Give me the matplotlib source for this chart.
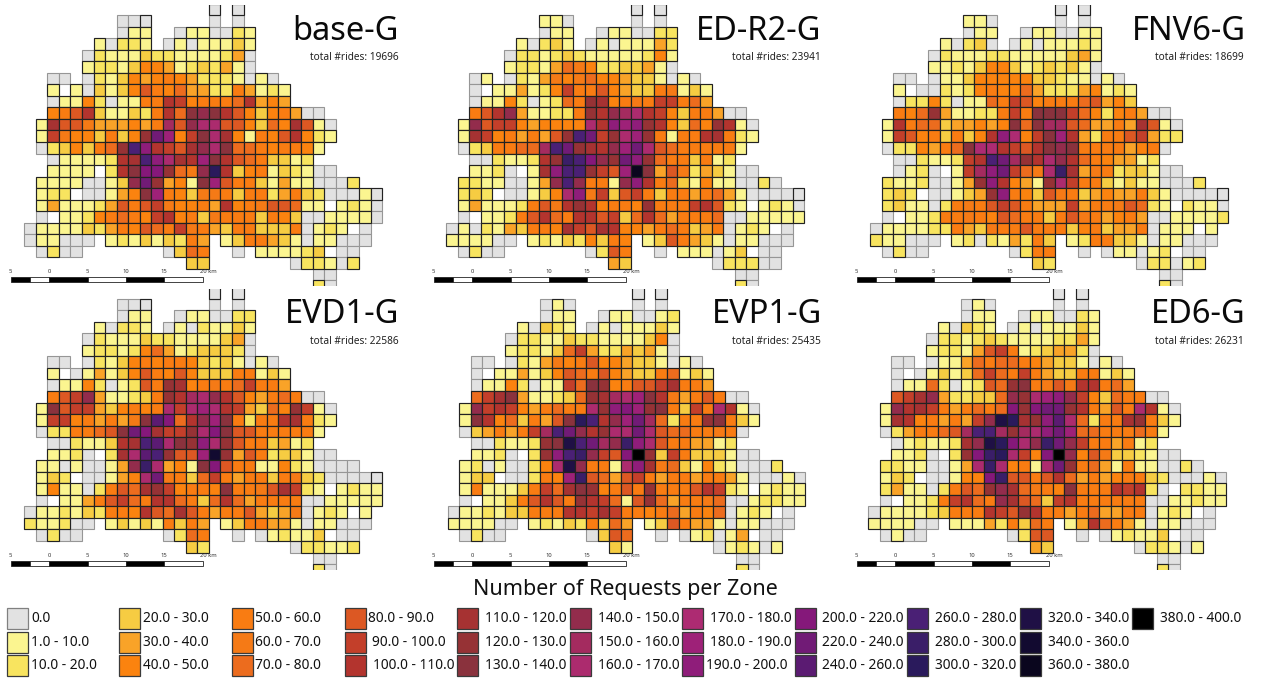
import matplotlib
matplotlib.use('Agg')
import matplotlib.pyplot as plt
from matplotlib.patches import Rectangle

plt.rcParams['font.family'] = ['Noto Sans', 'DejaVu Sans']

W, H = 1262, 678

# legend classes, one letter per class in the grids below
class_codes = '0abcdefghijklmnopqrstuvwxyzABCD'
class_labels = ['0.0', '1.0 - 10.0', '10.0 - 20.0', '20.0 - 30.0', '30.0 - 40.0', '40.0 - 50.0',
                '50.0 - 60.0', '60.0 - 70.0', '70.0 - 80.0', '80.0 - 90.0', '90.0 - 100.0', '100.0 - 110.0',
                '110.0 - 120.0', '120.0 - 130.0', '130.0 - 140.0', '140.0 - 150.0', '150.0 - 160.0', '160.0 - 170.0',
                '170.0 - 180.0', '180.0 - 190.0', '190.0 - 200.0', '200.0 - 220.0', '220.0 - 240.0', '240.0 - 260.0',
                '260.0 - 280.0', '280.0 - 300.0', '300.0 - 320.0', '320.0 - 340.0', '340.0 - 360.0', '360.0 - 380.0',
                '380.0 - 400.0']
class_colors = ['#e2e2e2', '#fbf590', '#f8e45f', '#f6cc42', '#f9a328', '#fb830f', '#f97c12', '#f57a16',
                '#ec6c1e', '#dc5823', '#c33f2a', '#b3342e', '#a63232', '#963235', '#8a323d', '#932c4c',
                '#a42b5f', '#ac2b6e', '#ad2b72', '#9e2178', '#8f1d7a', '#85187a', '#711b76', '#5b1b72',
                '#4a2075', '#3a1e68', '#2a1a5c', '#1f1045', '#120a30', '#0a061e', '#000000']

titles = ['base-G', 'ED-R2-G', 'FNV6-G', 'EVD1-G', 'EVP1-G', 'ED6-G']
total_rides = [19696, 23941, 18699, 22586, 25435, 26231]

base_g = [
    '................+.+',
    '........00+.....0.0',
    '........0aa..0aa00ba',
    '......a0bba.0a0aaaca',
    '.....0baaacbbaaaabd0',
    '.....abbaceedabcbda0',
    '..00.0bacedefedbbba0a0',
    '..a.a0caceifehddbbfdaba',
    '..0aaeb0aaffkjefffhkded',
    '..efikcaacbfkhnonkiecefd00',
    '.aliigdddedfpioqqiiechelia0',
    '.ajgeecfcemvsejnqleafeikeba',
    '.0bcecfhmxtkjiloqnhhfeffea',
    '..0aaaabklxtqlksnkihfccab',
    '..aaaa.bknuumhgozkcefacba00',
    '.aaaa00acovmdeansiffcadaa000b',
    '.abb.00adensfecggfcffbdfcb000a+',
    '.adaaabdifijgeefdkefgiihaa.aba0',
    '.0.aabefhfejkefcgfffcfec00aaaa0',
    '0aaaacbdfeihfjgfdcffcccf0aba.0',
    '0aa000.abacacbfd.acffdca0aa000',
    '.0b00.......0chf..0.aaaabc.00',
    '..............cc.......0bba0b',
    '.........................00',
    '.........................b0',
]
ed_r2_g = [
    '................+.+',
    '........aa0.....0.0',
    '........0aa..0aa00bb',
    '......a0bca.0a0aaadb',
    '.....0bbabcbaaaaabea',
    '.....abbadhgebbccda0',
    '..0a.0badgegheedcca0a0',
    '..0.aadabejffiedccfgaca',
    '..0aaeb0abhfmlefgfjjfhd',
    '..fikodaabbfmkopqkjecffd00',
    '.aoijjedeeeeqktstmkechemka0',
    '.aljefdfdimxvjmqsmfaffklfba',
    '.0bcffhhpxvmlkosvqihfffffa',
    '..00baabkmyxuomvtmhffcfab',
    '..aab0.altxxmjisCndigbdca00',
    '.bbaa00adoxoffaotkfhcaeaa00b0',
    '.bcb.00aceqtgjcijfcffdfhda0000+',
    '.adaaabfigkmkeffemfffjkiba.aba0',
    '.0.aabfikhfkkijchkhdfffh00aaaaa',
    '0a0badcffeljilkeedfhfcdf0aba.0',
    'aaaa00.abacbecfe.acifdca0aa000',
    '.0b00.......0bif..0.aaa0ac.00',
    '..............dc.......0bbb00',
    '.........................00',
    '.........................b0',
]
fnv6_g = [
    '................+.+',
    '........aa0.....0.0',
    '........0aa..0aa00aa',
    '......a0bc0.0a0aaaba',
    '.....0baaabbaaaaacda',
    '.....aabaceecabcbca0',
    '..00.0aaceeeeeccbaa0a0',
    '..a.00babefeehdbbbdeaba',
    '..0bbeb0aahfjiefffhidec',
    '..fehmdaabbfjfnnnjhebefd00',
    '.akfhhcddedenhnppihddfdlia0',
    '.ajiefcfcektrejnskdbffijdbb',
    '.0bbedfhnrrkjiknonffffdef0',
    '..00baabjkxvpmkqokhfeddab',
    '..0ab0.ajptvjhgqyldgfbcca00',
    '.baab00admtkedamqjffcacaa000b',
    '.bcb.00acdmtfecigfcdeddfca0000+',
    '.bcaa0bfgfijifdddjdffgihba.baa0',
    '.0.aabffgfeihffcfigfdefd00aaaab',
    '0aaaabbfdcgffifffcefcddf0aaa.a',
    'baa000.ab0badbfc.abffcca0aa000',
    '.0b00.......0bff..0.0aa0ab.00',
    '..............cb.......0bb0ab',
    '.........................00',
    '.........................b0',
]
evd1_g = [
    '................+.+',
    '........00+.....0.0',
    '........0aa..0aa00bb',
    '......a0bba.0a0baaca',
    '.....0baaacbbaaaacd0',
    '.....abbabehdabcccb0',
    '..00.0bacefeffecbca0a0',
    '..a.0adaceifeiecccffaca',
    '..0aaeb0abifmlefgfhjffd',
    '..fijodaabcfmkpqokiedfhf00',
    '.anijjdcefefqjqsrkjdchemja0',
    '.ajjefdfdgnwuhkosnfbffklfba',
    '.0bbffhinvuljjmquniifffffa',
    '..00baacklxwqnmtqmiffcdab',
    '..aab0.blqwxmiisBmdifbcca00',
    '.aa0a00adoyqdeanuiffaaeba0000',
    '.acb.00adeqvgfchjfdffcfgcb0000+',
    '.aeaa0bfihlmjeffenffgiljba.abaa',
    '.0.aadfijhfkkhfchkhdffff00aaaaa',
    '0aabacbffekihlifdffidcdg0aba.a',
    'baab00.acacafcfd.acffdda0aa000',
    '.0b00.......0bhf..0.0abaac.00',
    '..............cb.......0bbaab',
    '.........................00',
    '.........................b0',
]
evp1_g = [
    '................+.+',
    '........0a0.....0.0',
    '........0aa..0aa00ab',
    '......a0cba.0a0aaaca',
    '.....0bbaacbbaaaace0',
    '.....abbachjdbbdcda0',
    '..00.0badgefieedcca0a0',
    '..0.aadaceihfiedccfhaca',
    '..0aaeb0aajhnmefiijlffd',
    '..hjlndaabchmlpqsnkgdfif00',
    '.aojkjedfhffqmtusmnfcjfqka0',
    '.ankehcfdinzxkosvphbffmnfca',
    '.0cdfdfjpxvokmqqvqihhffgf0',
    '..00baabmnAxvpoytqiffddab',
    '..aab0.bmtxyojiuDmcjfccca00',
    '.ab0a00beqAoffaqtlghcaeba000b',
    '.acc.00bfesyihdijfdffdffda000a0',
    '.afaaacfjhlnmefifmfffikjba.abaa',
    '.0.aacfikifmkjhaimhdffgh00abbaa',
    '0aabaccfffkkjljffefhdfeh0aba.0',
    'aaaa00.abacbfchd.acifdda0aa000',
    '.0b00.......0cih..0.0ab0ad.00',
    '..............ca.......0aba0a',
    '.........................00',
    '.........................b0',
]
ed6_g = [
    '................+.+',
    '........0a0.....0.0',
    '........0aa..0aa00ba',
    '......a0cba.0a0aaaca',
    '.....0bbabcbaaaabbda',
    '.....abbadijfabcddb0',
    '..00.0aadhfhhfedcca0a0',
    '..0.0acachjhfjfdccffaca',
    '..0aahb0abihmnfgigkkfhd',
    '..ijlodbbcchomqstojechff00',
    '.aokljfdfhfhumuvvmkfdifqka0',
    '.alkefdfdjoAzlmtwqhbfflmfca',
    '.0bdffhipxxpmpqtvshhfffhfa',
    '..0abaabloAzuqoyvojffdfab',
    '..aab0.bmuyzqjeuDoeigccba00',
    '.bbaa00adqyqefaqvmfhdafaa00b0',
    '.acb.00aeeuyiifikhdfdeffcb000a0',
    '.bdaa0bfihmolhgfenfffkjkb0.bbaa',
    '.0.aabfjkhfolihcjkffffff00aabaa',
    '0aaaabcfffkjimkffdfhddff0aba.0',
    'aaaa00.aaadbfchf.adkhfda0aa000',
    '.0a00.......0bii..0.0abaac.00',
    '..............dc.......0bba0a',
    '.........................00',
    '.........................b0',
]
panels = [base_g, ed_r2_g, fnv6_g, evd1_g, evp1_g, ed6_g]

scale_edges = [-5, -2.5, 0, 5, 10, 15, 20]
scale_ticks = [-5, 0, 5, 10, 15]
scale_labels = ['5', '0', '5', '10', '15']

# pixel layout
cell = 11.54
grid_x = [24.3, 446.3, 870.3, 24.3, 447.7, 868.3]
grid_y = [3.5, 3.5, 3.5, 287.1, 287.1, 287.1]
clip_top = [4.7, 4.7, 4.7, 289, 289, 289]
clip_bot = [285.7, 285.7, 285.7, 570, 570, 570]
bar_x = [10.7, 433.7, 856.7, 10.7, 433.7, 856.7]
bar_y = [277, 277, 277, 561, 561, 561]
title_right = [399, 821.7, 1245.7, 399, 821.7, 1245.7]
title_base = [39.5, 39.5, 39.5, 323, 323, 323]
sub_right = [398.3, 821, 1244, 398.3, 821, 1244]
sub_y = [58, 58, 58, 342, 342, 342]

fig = plt.figure(figsize=(W / 100, H / 100), dpi=100, facecolor='white')


def px_axes(left, top, right, bottom):
    ax = fig.add_axes([left / W, 1 - bottom / H, (right - left) / W, (bottom - top) / H])
    ax.axis('off')
    return ax


for p, grid in enumerate(panels):
    top = clip_top[p]
    bot = clip_bot[p]
    ax = px_axes(grid_x[p] - cell, top, grid_x[p] + 32 * cell, bot)
    ax.set_xlim(-1, 32)
    ax.set_ylim((bot - grid_y[p]) / cell, (top - grid_y[p]) / cell)
    # grey zones first, so dark outlines stay on top at shared borders
    for want_grey in (True, False):
        for r, row in enumerate(grid):
            for c, code in enumerate(row):
                if code == '.' or (code == '0') != want_grey:
                    continue
                if code == '0':
                    face, edge, lw = class_colors[0], '#969696', 0.8
                elif code == '+':
                    face, edge, lw = class_colors[0], '#222222', 0.85
                else:
                    face, edge, lw = class_colors[class_codes.index(code)], '#222222', 0.85
                ax.add_patch(Rectangle((c, r), 1, 1, facecolor=face, edgecolor=edge, linewidth=lw))

    # scale bar
    sb = px_axes(bar_x[p] - 1, bar_y[p] - 8, bar_x[p] + 193, bar_y[p] + 7)
    km = 192 / 25
    sb.set_xlim(-5 - 1 / km, 20 + 1 / km)
    sb.set_ylim(7, -8)
    for i in range(len(scale_edges) - 1):
        sb.barh(2.6, scale_edges[i + 1] - scale_edges[i], height=5.2, left=scale_edges[i],
                color='black' if i % 2 == 0 else 'white', edgecolor='#222222', linewidth=0.6)
    for t, lab in zip(scale_ticks, scale_labels):
        sb.text(t, -5.2, lab, ha='center', va='center', fontsize=4.2, color='#333333')
    sb.text(19.6, -5.2, '20 km', ha='left', va='center', fontsize=4.2, color='#333333')

# titles and legend in figure pixels
ov = px_axes(0, 0, W, H)
ov.set_xlim(0, W)
ov.set_ylim(H, 0)
for p in range(6):
    ov.text(title_right[p], title_base[p], titles[p], ha='right', va='baseline', fontsize=23.5, color='#0a0a0a')
    ov.text(sub_right[p], sub_y[p], 'total #rides: %d' % total_rides[p], ha='right', va='center',
            fontsize=7.3, color='#222222')

ov.text(625.5, 590, 'Number of Requests per Zone', ha='center', va='center', fontsize=15.5, color='#111111')

swatch_x = [7, 119.3, 231.7, 344.5, 457.3, 570, 682, 794.6, 907, 1020, 1132]
swatch_y = [608.3, 632, 655.3]
text_x = [31, 142.6, 255.4, 367.8, 485, 598, 710, 822.5, 934.7, 1047.7, 1160.3]
text_shift = {(3, 1): 4.5, (3, 2): 4.9, (6, 2): -4.1}
for i, lab in enumerate(class_labels):
    col, row = i // 3, i % 3
    ov.add_patch(Rectangle((swatch_x[col], swatch_y[row]), 21, 21, facecolor=class_colors[i],
                           edgecolor='#808080' if i == 0 else '#3a3a3a', linewidth=0.9))
    ov.text(text_x[col] + text_shift.get((col, row), 0), swatch_y[row] + 10.3, lab, ha='left', va='center',
            fontsize=9.9, color='#111111')

fig.savefig('out.png', dpi=100)
